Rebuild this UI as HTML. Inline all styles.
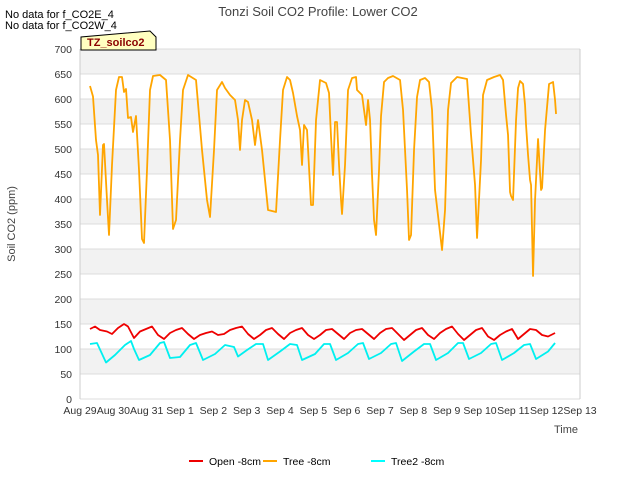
<!DOCTYPE html>
<html><head><meta charset="utf-8"><style>
body{margin:0;background:#fff;font-family:"Liberation Sans",sans-serif;}
svg text{font-family:"Liberation Sans",sans-serif;}
</style></head><body>
<svg id="c" width="640" height="480" xmlns="http://www.w3.org/2000/svg">
<text x="318" y="16" text-anchor="middle" font-size="13" fill="#444">Tonzi Soil CO2 Profile: Lower CO2</text>
<text x="5" y="18" font-size="11" fill="#000">No data for f_CO2E_4</text>
<text x="5" y="29" font-size="11" fill="#000">No data for f_CO2W_4</text>
<g id="plot"></g>
<g>
<path d="M81,50 L81,37 L150,31 L156,37 L156,50 Z" fill="#ffffc0" stroke="#000"/>
<text x="87" y="46" font-size="11" font-weight="bold" fill="#8b0000">TZ_soilco2</text>
</g>
<text x="15" y="224" font-size="11" fill="#444" transform="rotate(-90 15 224)" text-anchor="middle">Soil CO2 (ppm)</text>
<text x="566" y="433" font-size="11" fill="#444" text-anchor="middle">Time</text>
<g>
<g><line x1="189" y1="461" x2="203" y2="461" stroke="#e00" stroke-width="2"/><text x="209" y="465" font-size="10.5">Open -8cm</text></g>
<g><line x1="263" y1="461" x2="277" y2="461" stroke="#ffa500" stroke-width="2"/><text x="283" y="465" font-size="10.5">Tree -8cm</text></g>
<g><line x1="371" y1="461" x2="385" y2="461" stroke="#0ff" stroke-width="2"/><text x="391" y="465" font-size="10.5">Tree2 -8cm</text></g>
</g>
</svg>
<script>
const xTicks=["Aug 29","Aug 30","Aug 31","Sep 1","Sep 2","Sep 3","Sep 4","Sep 5","Sep 6","Sep 7","Sep 8","Sep 9","Sep 10","Sep 11","Sep 12","Sep 13"];
const yTicks=[0,50,100,150,200,250,300,350,400,450,500,550,600,650,700];
const treeX=[90,93,96,98,100,103,104,107,109,112,116,119,122,124,126,128,131,133,136,139,142,144,147,150,153,160,166,170,173,176,180,183,188,196,202,207,210,214,217,222,225,230,235,238,240,242,245,248,252,255,258,262,268,276,280,283,287,290,293,297,300,302,304,307,311,313,316,320,326,329,331,333,335,337,339,341,342,345,348,352,356,357,362,364,366,368,370,372,374,376,379,381,384,388,393,400,403,407,409,411,414,417,420,425,429,432,435,442,445,448,451,457,467,471,475,477,481,483,487,494,500,503,506,508,510,511,513,516,518,520,523,525,526,528,530,531,533,535,538,541,542,545,549,553,555,556].map(p=>(p-80)/33.33);
const treeV=[626,605,518,488,368,508,510,398,328,468,618,644,644,614,620,562,564,534,566,458,320,312,458,618,646,648,638,518,340,358,518,618,648,638,498,398,364,498,618,634,622,608,598,558,498,558,598,594,558,508,558,498,378,374,518,618,644,638,612,566,538,468,548,538,388,388,558,638,632,612,524,448,554,554,468,398,370,468,618,642,644,618,608,578,548,598,558,448,358,328,458,566,634,642,646,638,578,418,318,328,498,604,638,642,634,578,418,298,378,578,632,644,640,528,428,322,478,608,638,644,648,638,568,528,414,406,398,558,622,636,630,588,548,488,438,428,246,398,520,418,422,538,630,634,598,570];
const tree2X=[90,97,106,115,125,131,134,139,150,160,164,170,180,190,196,203,215,225,234,238,247,256,263,268,280,290,297,302,315,324,330,336,348,358,363,369,381,391,396,402,414,424,430,436,448,458,463,469,481,491,496,502,514,524,530,536,548,555].map(p=>(p-80)/33.33);
const tree2V=[110,112,73,88,108,116,100,78,88,112,114,82,84,108,112,78,90,108,104,85,98,110,110,78,95,110,108,78,90,110,110,78,92,110,112,80,92,110,112,76,95,110,110,78,92,112,112,80,92,110,112,78,92,108,110,80,95,112];
const openX=[90,95,100,107,112,118,124,128,134,140,146,152,158,164,170,176,182,188,194,200,206,212,218,224,230,236,242,248,254,260,266,272,278,284,290,296,302,308,314,320,326,332,338,344,350,356,362,368,374,380,386,392,398,404,410,416,422,428,434,440,446,452,458,464,470,476,482,488,494,500,506,512,518,524,530,536,542,548,555].map(p=>(p-80)/33.33);
const openV=[140,145,138,135,130,142,150,145,122,135,140,145,128,120,132,138,142,130,120,128,132,135,128,130,138,142,145,130,120,128,138,142,130,120,132,138,142,128,120,128,138,140,130,120,132,138,140,130,120,132,140,142,130,118,128,138,142,128,120,132,140,145,130,118,128,138,142,125,118,128,135,140,120,130,140,138,128,125,132];
const L=80,R=580,T=49,B=399;
const sx=d=>L+d*(R-L)/15, sy=v=>B-v*(B-T)/700;
const NS="http://www.w3.org/2000/svg", g=document.getElementById('plot');
function mk(t,a){const e=document.createElementNS(NS,t);for(const k in a)e.setAttribute(k,a[k]);g.appendChild(e);return e;}
for(let i=0;i<yTicks.length-1;i++){if(i%2==1){const r=mk('rect',{x:L,y:sy(yTicks[i+1]),width:R-L,height:sy(yTicks[i])-sy(yTicks[i+1]),fill:'#f2f2f2'});

}}
yTicks.forEach(v=>{const l=mk('line',{x1:L,x2:R,y1:sy(v),y2:sy(v),stroke:'#dcdcdc'});


const t=mk('text',{x:72,y:sy(v)+4,'text-anchor':'end','font-size':10.5,fill:'#333'});t.textContent=v;

});
mk('line',{x1:L,x2:L,y1:T,y2:B,stroke:'#ccc'});mk('line',{x1:R,x2:R,y1:T,y2:B,stroke:'#ccc'});
xTicks.forEach((s,i)=>{const t=mk('text',{x:sx(i),y:414,'text-anchor':'middle','font-size':10.5,fill:'#333'});t.textContent=s;

});
function line(xs,vs,c,n){const p=mk('polyline',{points:xs.map((d,i)=>sx(d)+','+sy(vs[i])).join(' '),fill:'none',stroke:c,'stroke-width':1.8,'stroke-linejoin':'round'});

}
line(openX,openV,'#e00','open-8cm-line');
line(tree2X,tree2V,'#00f0f0','tree2-8cm-line');
line(treeX,treeV,'#ffa500','tree-8cm-line');
</script>
</body></html>
